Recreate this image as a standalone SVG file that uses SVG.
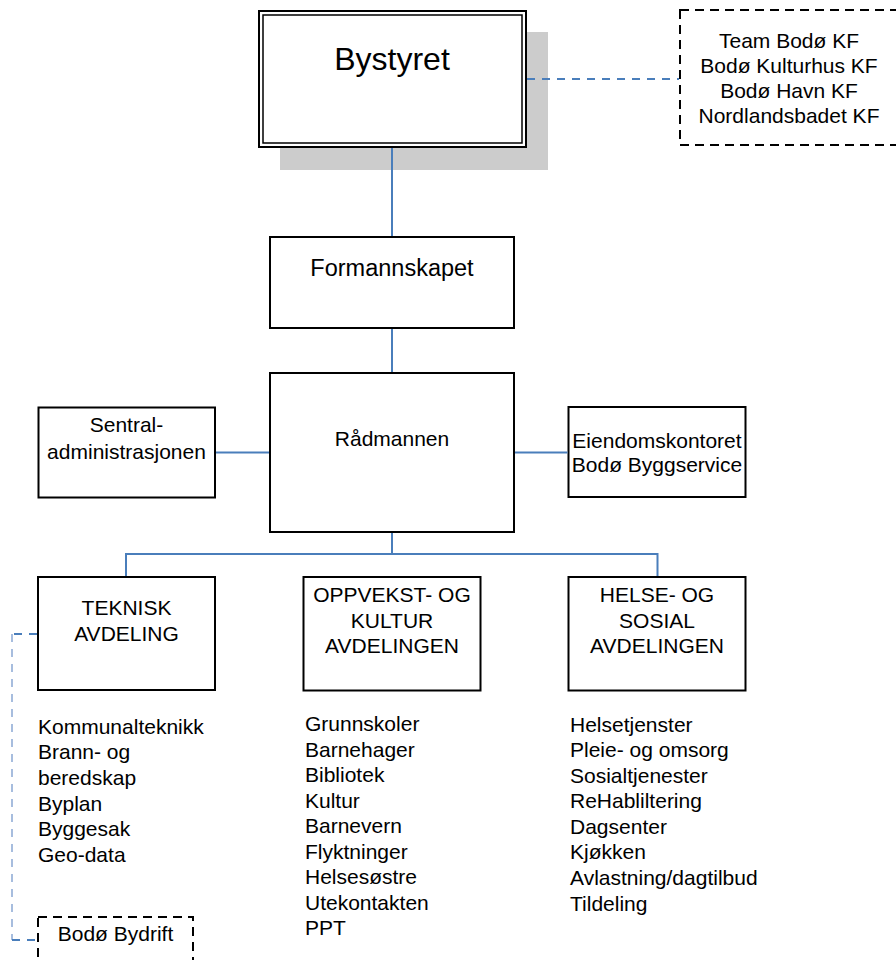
<svg xmlns="http://www.w3.org/2000/svg" width="896" height="960" viewBox="0 0 896 960">
<style>
text{font-family:"Liberation Sans",Arial,sans-serif;font-size:21px;fill:#000}
.c{text-anchor:middle}
.box{fill:#fff;stroke:#000;stroke-width:2}
.dbox{fill:#fff;stroke:#000;stroke-width:2;stroke-dasharray:9 6}
.ln{fill:none;stroke:#4a7ebb;stroke-width:2}
.dl{fill:none;stroke:#4a7ebb;stroke-width:2;stroke-dasharray:8 7}
.dv{fill:none;stroke:#8aa8d4;stroke-width:1.5;stroke-dasharray:8 7}
</style>
<rect width="896" height="960" fill="#fff"/>
<g id="bystyret">
<rect x="280" y="32" width="268" height="138" fill="#cccccc"/>
<rect class="box" x="259" y="11" width="267" height="136"/>
<rect x="263" y="15" width="259" height="128" fill="none" stroke="#000" stroke-width="1.5"/>
<text class="c" x="392" y="70" style="font-size:32px">Bystyret</text>
</g>
<g id="kf">
<rect class="dbox" x="680" y="10" width="222" height="135"/>
<text class="c" x="789" y="47.5">Team Bodø KF</text>
<text class="c" x="789" y="72.5">Bodø Kulturhus KF</text>
<text class="c" x="789" y="97.5">Bodø Havn KF</text>
<text class="c" x="789" y="122.5">Nordlandsbadet KF</text>
</g>
<g id="formannskapet">
<rect class="box" x="270" y="237" width="244" height="91"/>
<text class="c" x="392" y="276" style="font-size:23.5px">Formannskapet</text>
</g>
<g id="radmannen">
<rect class="box" x="270" y="373" width="244" height="159"/>
<text class="c" x="392" y="446">Rådmannen</text>
</g>
<g id="sentral">
<rect class="box" x="38.5" y="407.5" width="176.5" height="90"/>
<text class="c" x="126.5" y="432">Sentral-</text>
<text class="c" x="126.5" y="459">administrasjonen</text>
</g>
<g id="eiendom">
<rect class="box" x="568.5" y="407" width="177" height="90"/>
<text class="c" x="657" y="448">Eiendomskontoret</text>
<text class="c" x="657" y="472">Bodø Byggservice</text>
</g>
<g id="teknisk">
<rect class="box" x="38" y="577" width="177" height="113"/>
<text class="c" x="126.5" y="615">TEKNISK</text>
<text class="c" x="126.5" y="641">AVDELING</text>
</g>
<g id="oppvekst">
<rect class="box" x="303.5" y="577" width="177" height="113.5"/>
<text class="c" x="392" y="602">OPPVEKST- OG</text>
<text class="c" x="392" y="627.5">KULTUR</text>
<text class="c" x="392" y="653">AVDELINGEN</text>
</g>
<g id="helse">
<rect class="box" x="568.5" y="577" width="177" height="113.5"/>
<text class="c" x="657" y="602">HELSE- OG</text>
<text class="c" x="657" y="627.5">SOSIAL</text>
<text class="c" x="657" y="653">AVDELINGEN</text>
</g>
<g id="teknisk-list">
<text x="38" y="733.5">Kommunalteknikk</text>
<text x="38" y="759">Brann- og</text>
<text x="38" y="785">beredskap</text>
<text x="38" y="810.5">Byplan</text>
<text x="38" y="836">Byggesak</text>
<text x="38" y="862">Geo-data</text>
</g>
<g id="oppvekst-list">
<text x="305" y="731">Grunnskoler</text>
<text x="305" y="756.5">Barnehager</text>
<text x="305" y="782">Bibliotek</text>
<text x="305" y="807.5">Kultur</text>
<text x="305" y="833">Barnevern</text>
<text x="305" y="858.5">Flyktninger</text>
<text x="305" y="884">Helsesøstre</text>
<text x="305" y="909.5">Utekontakten</text>
<text x="305" y="935">PPT</text>
</g>
<g id="helse-list">
<text x="570" y="731.5">Helsetjenster</text>
<text x="570" y="757">Pleie- og omsorg</text>
<text x="570" y="782.5">Sosialtjenester</text>
<text x="570" y="808">ReHabliltering</text>
<text x="570" y="833.5">Dagsenter</text>
<text x="570" y="859">Kjøkken</text>
<text x="570" y="885">Avlastning/dagtilbud</text>
<text x="570" y="910.5">Tildeling</text>
</g>
<g id="bydrift">
<rect class="dbox" x="38" y="917" width="155" height="60"/>
<text class="c" x="115.5" y="941">Bodø Bydrift</text>
</g>
<g id="connectors">
<line class="ln" x1="392" y1="148" x2="392" y2="236"/>
<line class="ln" x1="392" y1="329" x2="392" y2="372"/>
<line class="ln" x1="216" y1="452.5" x2="269" y2="452.5"/>
<line class="ln" x1="515" y1="452.5" x2="567.5" y2="452.5"/>
<polyline class="ln" points="392,533 392,554 126,554 126,576"/>
<polyline class="ln" points="392,554 657.5,554 657.5,576"/>
<line class="dl" x1="527" y1="79" x2="679" y2="79"/>
<polyline class="dl" points="37,634 12,634"/>
<line class="dv" x1="12" y1="634" x2="12" y2="940"/>
<polyline class="dl" points="12,940 37,940"/>
</g>
</svg>
